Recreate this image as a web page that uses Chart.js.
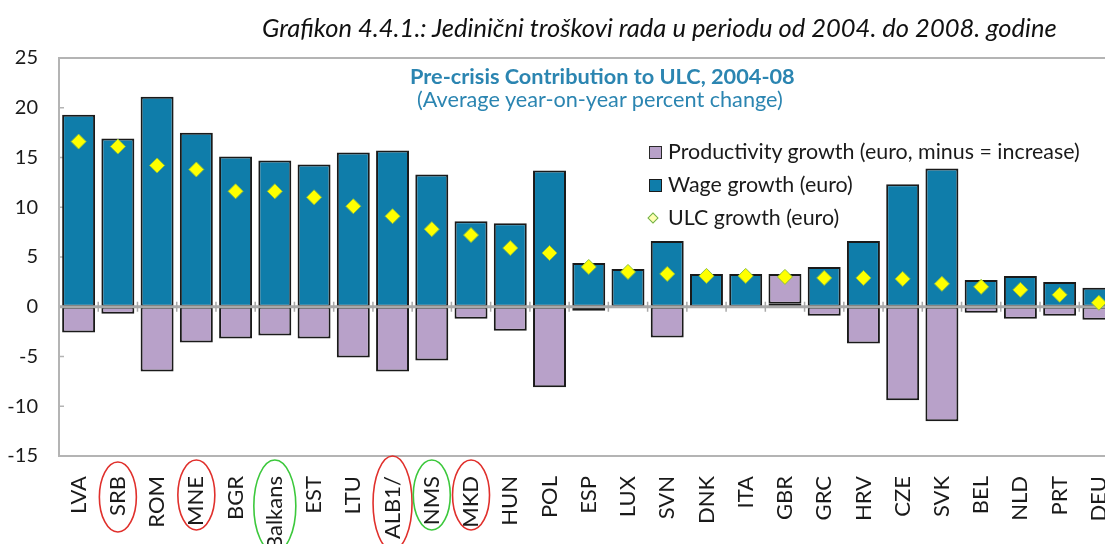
<!DOCTYPE html>
<html><head><meta charset="utf-8">
<script src="https://cdn.jsdelivr.net/npm/chart.js@4/dist/chart.umd.min.js"></script>
<style>
html,body{margin:0;padding:0;background:#fff;overflow:hidden;width:1105px;height:544px;}
#wrap{position:absolute;left:0;top:0;width:1130px;height:544px;}
.txt{position:absolute;white-space:nowrap;font-family:Lato,"Open Sans",sans-serif;}
.mk{position:absolute;box-sizing:border-box;}
</style></head><body>
<div id="wrap"><canvas id="c" width="1130" height="544"></canvas></div>
<div id="title" class="txt" style="font-style:italic;color:#111;">Grafikon 4.4.1.: Jedinični troškovi rada u periodu od 2004. do 2008. godine</div>
<div id="t1" class="txt" style="font-weight:bold;color:#2b85b1;">Pre-crisis Contribution to ULC, 2004-08</div>
<div id="t2" class="txt" style="color:#2b85b1;">(Average year-on-year percent change)</div>
<div id="m1" class="mk" style="left:649px;top:146px;width:13px;height:13px;background:#b8a1c9;border:1.5px solid #2a2a2a;"></div>
<div id="m2" class="mk" style="left:649px;top:179px;width:13px;height:13px;background:#0f7daa;border:1.5px solid #1a1a1a;"></div>
<div id="m3" class="mk" style="left:649px;top:214px;width:8px;height:8px;background:#ffffb0;border:1.5px solid #6fb04a;transform:rotate(45deg);"></div>
<div id="l1" class="txt" style="color:#1a1a1a;">Productivity growth (euro, minus = increase)</div>
<div id="l2" class="txt" style="color:#1a1a1a;">Wage growth (euro)</div>
<div id="l3" class="txt" style="color:#1a1a1a;">ULC growth (euro)</div>
<script>
const categories = ['LVA','SRB','ROM','MNE','BGR','Balkans','EST','LTU','ALB1/','NMS','MKD','HUN','POL','ESP','LUX','SVN','DNK','ITA','GBR','GRC','HRV','CZE','SVK','BEL','NLD','PRT','DEU'];
const wageGrowth = [19.3, 16.9, 21.1, 17.5, 15.1, 14.7, 14.3, 15.5, 15.7, 13.3, 8.6, 8.4, 13.7, 4.4, 3.8, 6.6, 3.3, 3.3, 0.3, 4.0, 6.6, 12.3, 13.9, 2.7, 3.1, 2.5, 1.9];
const productivityGrowth = [-2.6, -0.7, -6.5, -3.6, -3.2, -2.9, -3.2, -5.1, -6.5, -5.4, -1.2, -2.4, -8.1, -0.4, null, -3.1, null, null, 3.0, -0.9, -3.7, -9.4, -11.5, -0.6, -1.2, -0.9, -1.3];
const ulcGrowth = [16.6, 16.1, 14.2, 13.8, 11.6, 11.6, 11.0, 10.1, 9.1, 7.8, 7.2, 5.9, 5.4, 4.0, 3.5, 3.3, 3.1, 3.1, 3.0, 2.9, 2.9, 2.8, 2.3, 2.0, 1.7, 1.2, 0.4];
const yTicks = {min: -15, max: 25, step: 5};
const redCircled = ['SRB','MNE','ALB1/','MKD'];
const greenCircled = ['Balkans','NMS'];

function fit(id, left, cy, width, base) {
  const el = document.getElementById(id);
  el.style.fontSize = base + 'px';
  el.style.lineHeight = base + 'px';
  const w = el.getBoundingClientRect().width;
  const fs = base * width / w;
  el.style.fontSize = fs + 'px';
  el.style.lineHeight = fs + 'px';
  el.style.left = left + 'px';
  el.style.top = (cy - fs / 2) + 'px';
  return fs;
}
function place(id, left, cy, fs) {
  const el = document.getElementById(id);
  el.style.fontSize = fs + 'px';
  el.style.lineHeight = fs + 'px';
  el.style.left = left + 'px';
  el.style.top = (cy - fs / 2) + 'px';
}
fit('title', 262, 28, 795, 22);
fit('t1', 410, 77, 385, 18);
fit('t2', 417, 100, 366, 18);
const lfs = fit('l1', 668, 152, 412, 18);
place('l2', 668, 185, lfs);
place('l3', 668, 218, lfs);

const ellipseSpec = {
  'SRB': {cy: 497, rx: 18.5, ry: 35},
  'MNE': {cy: 495, rx: 18.5, ry: 35},
  'Balkans': {cy: 506, rx: 21, ry: 46},
  'ALB1/': {cy: 503, rx: 19.5, ry: 47},
  'NMS': {cy: 495, rx: 18.5, ry: 35},
  'MKD': {cy: 495, rx: 18.5, ry: 35}
};

const deco = {
  id: 'deco',
  beforeDatasetsDraw(chart) {
    const {ctx, chartArea: a, scales: {y}} = chart;
    ctx.save();
    ctx.strokeStyle = '#b4b4b4';
    ctx.lineWidth = 1.5;
    ctx.beginPath();
    for (let v = yTicks.min; v <= yTicks.max; v += yTicks.step) {
      const py = y.getPixelForValue(v);
      ctx.moveTo(a.left, py); ctx.lineTo(a.left + 5, py);
    }
    ctx.stroke();
    ctx.restore();
  },
  afterDatasetDraw(chart, args) {
    if (args.index !== 1) return;
    const {ctx, chartArea: a, scales: {x, y}} = chart;
    const y0 = y.getPixelForValue(0);
    ctx.save();
    ctx.strokeStyle = '#a9a9a9';
    ctx.lineWidth = 3;
    ctx.beginPath(); ctx.moveTo(a.left, y0); ctx.lineTo(a.right, y0); ctx.stroke();
    const half = (x.getPixelForValue(1) - x.getPixelForValue(0)) / 2;
    ctx.lineWidth = 1.5;
    ctx.beginPath();
    for (let i = 0; i <= categories.length; i++) {
      const px = x.getPixelForValue(i) - half;
      ctx.moveTo(px, y0 - 5); ctx.lineTo(px, y0 + 5);
    }
    ctx.stroke();
    ctx.restore();
  },
  afterDraw(chart) {
    const {ctx, chartArea: a, scales: {x}} = chart;
    ctx.save();
    ctx.strokeStyle = '#b4b4b4';
    ctx.lineWidth = 2;
    ctx.beginPath();
    ctx.moveTo(a.right + 20, a.top); ctx.lineTo(a.left, a.top); ctx.lineTo(a.left, a.bottom); ctx.lineTo(a.right + 20, a.bottom);
    ctx.stroke();
    ctx.lineWidth = 1.6;
    categories.forEach((c, i) => {
      const s = ellipseSpec[c];
      if (!s) return;
      ctx.strokeStyle = redCircled.includes(c) ? '#e0302c' : '#3cc83c';
      ctx.beginPath();
      ctx.ellipse(x.getPixelForValue(i), s.cy, s.rx, s.ry, 0, 0, Math.PI * 2);
      ctx.stroke();
    });
    ctx.restore();
  }
};

new Chart(document.getElementById('c'), {
  data: {
    labels: categories,
    datasets: [
      {type: 'line', label: 'ULC growth (euro)', data: ulcGrowth, showLine: false, order: 0, stack: 'ulc',
       pointStyle: 'rectRot', pointRadius: 7.5, pointBackgroundColor: '#ffff00', pointBorderColor: '#8cbf3f', pointBorderWidth: 1},
      {type: 'bar', label: 'Wage growth (euro)', data: wageGrowth, order: 1, stack: 'b',
       backgroundColor: '#0f7daa', borderColor: '#1a1a1a', borderWidth: 2, borderSkipped: false,
       barPercentage: 0.84, categoryPercentage: 1.0},
      {type: 'bar', label: 'Productivity growth (euro, minus = increase)', data: productivityGrowth, order: 1, stack: 'b',
       backgroundColor: '#b8a1c9', borderColor: '#1a1a1a', borderWidth: 2, borderSkipped: false,
       barPercentage: 0.84, categoryPercentage: 1.0}
    ]
  },
  options: {
    responsive: false,
    animation: false,
    events: [],
    layout: {padding: {top: 58, right: 11.5, left: 0, bottom: 0}},
    plugins: {legend: {display: false}, tooltip: {enabled: false}, title: {display: false}},
    scales: {
      x: {
        stacked: true,
        grid: {display: false, drawTicks: false},
        border: {display: false},
        ticks: {autoSkip: false, maxRotation: 90, minRotation: 90, padding: 20,
                color: '#1a1a1a', font: {family: 'Lato', size: 22}},
        afterFit(s) { s.height = 88; s.paddingLeft = 0; s.paddingRight = 0; }
      },
      y: {
        stacked: true,
        min: yTicks.min, max: yTicks.max,
        grid: {display: false, drawTicks: false},
        border: {display: false},
        ticks: {stepSize: yTicks.step, padding: 21, color: '#1a1a1a', font: {family: 'Lato', size: 20}},
        afterFit(s) { s.width = 59; }
      }
    }
  },
  plugins: [deco]
});
</script>
</body></html>
